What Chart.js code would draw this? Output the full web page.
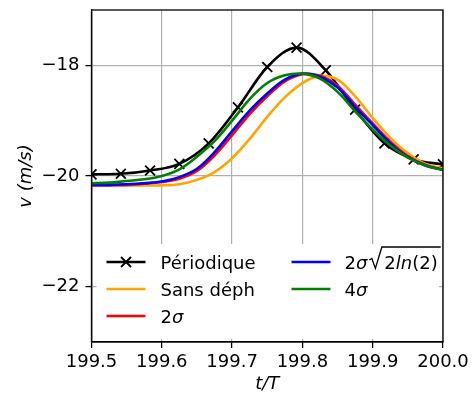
<!DOCTYPE html>
<html><head><meta charset="utf-8">
<script src="https://cdn.jsdelivr.net/npm/chart.js@4"></script>
<style>html,body{margin:0;padding:0;background:#fff;}canvas{display:block;}</style>
</head><body>
<canvas id="c" width="472" height="399"></canvas>
<script>
// ---- data ----
const periodicX = [199.5, 199.5417, 199.5833, 199.625, 199.6667, 199.7083, 199.75, 199.7917, 199.8333, 199.875, 199.9167, 199.9583, 200.0];
const periodicY = [-19.97, -19.96, -19.90, -19.78, -19.41, -18.76, -18.03, -17.68, -18.09, -18.80, -19.41, -19.70, -19.79];
const xGrid = [199.500, 199.525, 199.550, 199.575, 199.600, 199.625, 199.650, 199.675, 199.700, 199.725, 199.750, 199.775, 199.800, 199.825, 199.850, 199.875, 199.900, 199.925, 199.950, 199.975, 200.000];
const sansDephY = [-20.16, -20.16, -20.17, -20.17, -20.17, -20.15, -20.07, -19.93, -19.68, -19.33, -18.93, -18.58, -18.32, -18.19, -18.26, -18.56, -18.95, -19.31, -19.59, -19.78, -19.86];
const sigma2Y = [-20.17, -20.17, -20.16, -20.14, -20.11, -20.05, -19.91, -19.63, -19.26, -18.88, -18.56, -18.29, -18.16, -18.19, -18.37, -18.71, -19.05, -19.38, -19.64, -19.80, -19.89];
const sigmaFwhmY = [-20.16, -20.16, -20.15, -20.13, -20.10, -20.02, -19.87, -19.57, -19.19, -18.82, -18.51, -18.26, -18.15, -18.21, -18.40, -18.75, -19.08, -19.41, -19.66, -19.81, -19.89];
const sigma4Y = [-20.13, -20.12, -20.09, -20.06, -20.00, -19.88, -19.65, -19.37, -19.00, -18.61, -18.32, -18.18, -18.15, -18.24, -18.48, -18.83, -19.16, -19.45, -19.67, -19.81, -19.89];
const xTicks = [199.5, 199.6, 199.7, 199.8, 199.9, 200.0];
const yTicks = [-22, -20, -18];
const xLabel = 't/T';
const yLabel = 'v (m/s)';
const seriesNames = ['Périodique', 'Sans déph', '2σ', '2σ√2ln(2)', '4σ'];

const FONT = '"DejaVu Sans", sans-serif';
const pts = (xs, ys) => xs.map((x, i) => ({x: x, y: ys[i]}));
const LW = 2.6;

const datasets = [
  {label: seriesNames[0], data: pts(periodicX, periodicY), borderColor: '#000', backgroundColor: '#000', borderWidth: LW,
   pointStyle: 'crossRot', pointRadius: 7, pointBorderWidth: 1.8, pointBorderColor: '#000', cubicInterpolationMode: 'monotone', order: 5},
  {label: seriesNames[1], data: pts(xGrid, sansDephY), borderColor: '#ffa500', borderWidth: LW, pointRadius: 0, tension: 0.35, order: 4},
  {label: seriesNames[2], data: pts(xGrid, sigma2Y), borderColor: '#ff0000', borderWidth: LW, pointRadius: 0, tension: 0.35, order: 3},
  {label: seriesNames[3], data: pts(xGrid, sigmaFwhmY), borderColor: '#0000ff', borderWidth: LW, pointRadius: 0, tension: 0.35, order: 2},
  {label: seriesNames[4], data: pts(xGrid, sigma4Y), borderColor: '#008000', borderWidth: LW, pointRadius: 0, tension: 0.35, order: 1}
];

// legend label runs (plain / italic pieces of the math text)
const legendRuns = [
  [{t: 'Périodique'}],
  [{t: 'Sans déph'}],
  [{t: '2'}, {t: 'σ', i: true}],
  [{t: '2'}, {t: 'σ', i: true}, {sqrt: [{t: '2'}, {t: 'ln', i: true}, {t: '(2)'}]}],
  [{t: '4'}, {t: 'σ', i: true}]
];

function drawRuns(ctx, runs, x, y) {
  for (const r of runs) {
    if (r.sqrt) {
      const x0 = x + 2;
      const top = y - 21.5;
      let w = 0;
      for (const s of r.sqrt) { ctx.font = (s.i ? 'italic ' : '') + '18px ' + FONT; w += ctx.measureText(s.t).width; }
      ctx.save();
      ctx.strokeStyle = '#000'; ctx.lineWidth = 1.3; ctx.lineJoin = 'miter';
      ctx.beginPath();
      ctx.moveTo(x0, y - 8.5);
      ctx.lineTo(x0 + 2.5, y - 10);
      ctx.lineTo(x0 + 6, y);
      ctx.lineTo(x0 + 12.5, top);
      ctx.lineTo(x0 + 16 + w + 2, top);
      ctx.stroke();
      ctx.restore();
      x = drawRuns(ctx, r.sqrt, x0 + 15, y);
    } else {
      ctx.font = (r.i ? 'italic ' : '') + '18px ' + FONT;
      ctx.fillText(r.t, x, y);
      x += ctx.measureText(r.t).width;
    }
  }
  return x;
}

const mplPlugin = {
  id: 'mpl',
  afterDatasetsDraw(chart) {
    const ctx = chart.ctx, a = chart.chartArea;
    ctx.save();
    ctx.fillStyle = '#fff';
    ctx.fillRect(a.left + 5, a.bottom - 98, a.right - a.left - 9, 95);
    const cols = [{ls: a.left + 15, le: a.left + 54, tx: a.left + 69}, {ls: a.left + 200, le: a.left + 239, tx: a.left + 253}];
    const rows = [a.bottom - 80, a.bottom - 53, a.bottom - 26];
    const place = [[0, 0], [0, 1], [0, 2], [1, 0], [1, 1]];
    datasets.forEach((ds, k) => {
      const c = cols[place[k][0]], yy = rows[place[k][1]];
      ctx.strokeStyle = ds.borderColor; ctx.lineWidth = LW; ctx.lineCap = 'butt';
      ctx.beginPath(); ctx.moveTo(c.ls, yy); ctx.lineTo(c.le, yy); ctx.stroke();
      if (ds.pointStyle === 'crossRot') {
        const cx = (c.ls + c.le) / 2, h = 5;
        ctx.lineWidth = 1.8;
        ctx.beginPath();
        ctx.moveTo(cx - h, yy - h); ctx.lineTo(cx + h, yy + h);
        ctx.moveTo(cx - h, yy + h); ctx.lineTo(cx + h, yy - h);
        ctx.stroke();
      }
      ctx.fillStyle = '#000'; ctx.textBaseline = 'alphabetic'; ctx.textAlign = 'left';
      drawRuns(ctx, legendRuns[k], c.tx, yy + 6.5);
    });
    ctx.restore();
  },
  afterDraw(chart) {
    const ctx = chart.ctx, a = chart.chartArea;
    ctx.save();
    ctx.strokeStyle = '#000'; ctx.lineWidth = 1.3;
    ctx.strokeRect(a.left, a.top, a.right - a.left, a.bottom - a.top);
    ctx.restore();
  }
};

new Chart(document.getElementById('c'), {
  type: 'line',
  data: {datasets: datasets},
  options: {
    responsive: false, animation: false, devicePixelRatio: 1,
    layout: {padding: {left: 0, right: 29, top: 10, bottom: 0}},
    plugins: {legend: {display: false}, tooltip: {enabled: false}},
    scales: {
      x: {
        type: 'linear', min: 199.5, max: 200.0,
        afterBuildTicks: s => { s.ticks = xTicks.map(v => ({value: v})); },
        afterFit: s => { s.height = 57; s.paddingLeft = 0; s.paddingRight = 0; },
        ticks: {color: '#000', font: {family: FONT, size: 18}, padding: 4, maxRotation: 0, autoSkip: false,
                callback: v => Number(v).toFixed(1)},
        grid: {color: '#b0b0b0', lineWidth: 1.2, tickColor: '#000', tickLength: 6, tickWidth: 1.3},
        border: {color: '#000', width: 1.3},
        title: {display: true, text: xLabel, color: '#000', font: {family: FONT, size: 18, style: 'italic'}, padding: {top: 0, bottom: 4}}
      },
      y: {
        type: 'linear', min: -23, max: -17,
        afterBuildTicks: s => { s.ticks = yTicks.map(v => ({value: v})); },
        afterFit: s => { s.width = 91.5; s.paddingTop = 0; s.paddingBottom = 0; },
        ticks: {color: '#000', font: {family: FONT, size: 18}, padding: 6,
                callback: v => (v < 0 ? '\u2212' : '') + Math.abs(v)},
        grid: {color: '#b0b0b0', lineWidth: 1.2, tickColor: '#000', tickLength: 6, tickWidth: 1.3},
        border: {color: '#000', width: 1.3},
        title: {display: true, text: yLabel, color: '#000', font: {family: FONT, size: 18, style: 'italic'}, padding: {top: 16, bottom: 0}}
      }
    }
  },
  plugins: [mplPlugin]
});
</script>
</body></html>
